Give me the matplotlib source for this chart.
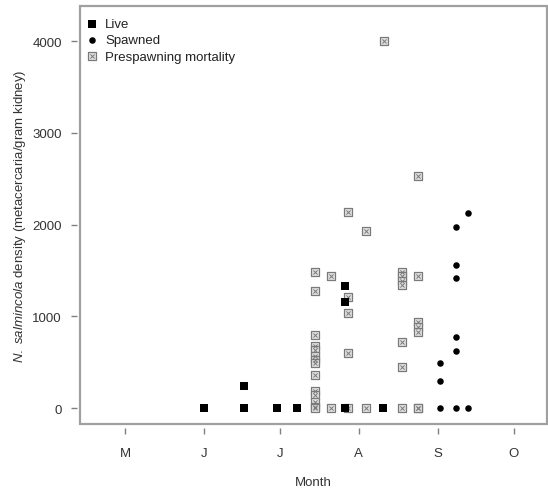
import matplotlib
matplotlib.use("Agg")
import matplotlib.pyplot as plt
from matplotlib.patches import Rectangle

# day of year for each sample
live_day = [152, 167.8, 167.8, 180.9, 188.8, 207.5, 207.5, 207.5, 222.6]
live_val = [0, 0, 240, 0, 0, 1336, 1155, 0, 0]

spawned_day = [244.9, 244.9, 244.9, 251.1, 251.1, 251.1, 251.1, 251.1, 251.1,
               255.8, 255.8]
spawned_val = [0, 301, 494, 0, 628, 774, 1417, 1565, 1979, 0, 2129]

pre_day = ([195.8] * 14 + [201.9] * 2 + [208.8] * 5 + [215.8] * 2 + [222.9]
           + [229.8] * 7 + [236.1] * 7)
pre_val = [1482, 1282, 799, 682, 639, 573, 530, 494, 366, 192, 148, 65, 11, 0,
           1445, 0,
           2136, 1216, 1035, 599, 0,
           1936, 0,
           4000,
           1482, 1439, 1391, 1344, 719, 447, 0,
           2529, 1445, 937, 883, 828, 0, 0]

month_days = [121, 152, 182, 213, 244, 274]
month_labels = ["M", "J", "J", "A", "S", "O"]
y_ticks = [0, 1000, 2000, 3000, 4000]

plt.rcParams["font.family"] = ["Liberation Sans", "DejaVu Sans"]
plt.rcParams["mathtext.fontset"] = "custom"
plt.rcParams["mathtext.rm"] = "Liberation Sans"
plt.rcParams["mathtext.it"] = "Liberation Sans:italic"


def main():
    fig = plt.figure(figsize=(5.48, 4.89), dpi=100)
    ax = fig.add_axes([0.146, 0.131, 0.852, 0.855])

    grey = "#7a7a7a"
    h_live = ax.scatter(live_day, live_val, marker="s", s=26, c="black",
                        linewidths=0, zorder=3)
    h_spawn = ax.scatter(spawned_day, spawned_val, marker="o", s=22, c="black",
                         linewidths=0, zorder=3)
    h_pre1 = ax.scatter(pre_day, pre_val, marker="s", s=30, facecolors="#e2e2e2",
                        edgecolors=grey, linewidths=0.9, zorder=2)
    h_pre2 = ax.scatter(pre_day, pre_val, marker="x", s=9, c=grey,
                        linewidths=0.7, zorder=2)

    ax.set_xlim(103.3, 287)
    ax.set_ylim(-171, 4385)
    ax.set_xticks(month_days)
    ax.set_xticklabels(month_labels)
    ax.set_yticks(y_ticks)

    for side in ["top", "right", "bottom", "left"]:
        ax.spines[side].set_visible(False)
    ax.spines["left"].set_position(("outward", 2.5))
    ax.spines["bottom"].set_position(("outward", 3))
    ax.add_patch(Rectangle((0, 0), 1, 1, transform=ax.transAxes, fill=False,
                           lw=1.6, ec="#a0a0a0", clip_on=False, zorder=5))

    ax.tick_params(axis="both", direction="out", length=4.5, width=1,
                   color="#808080", labelsize=9.5, labelcolor="#333333")
    ax.tick_params(axis="y", pad=6)
    ax.tick_params(axis="x", pad=9)

    ax.set_xlabel("Month", fontsize=9.5, color="#333333")
    ax.xaxis.set_label_coords(0.5, -0.139)
    ax.xaxis.label.set_va("center")
    ax.set_ylabel(r"$\mathit{N.\ salmincola}$ density (metacercaria/gram kidney)",
                  fontsize=9.5, color="#333333")
    ax.yaxis.set_label_coords(-0.128, 0.5)
    ax.yaxis.label.set_va("center")

    ax.legend([h_live, h_spawn, (h_pre1, h_pre2)],
              ["Live", "Spawned", "Prespawning mortality"],
              loc="upper left", bbox_to_anchor=(0.014, 0.971), frameon=False,
              fontsize=9.5, handlelength=0.8, handletextpad=0.6,
              labelspacing=0.3, borderpad=0, borderaxespad=0, labelcolor="#222222")

    fig.savefig("out.png", dpi=100)
    plt.close(fig)


if __name__ == "__main__":
    main()
